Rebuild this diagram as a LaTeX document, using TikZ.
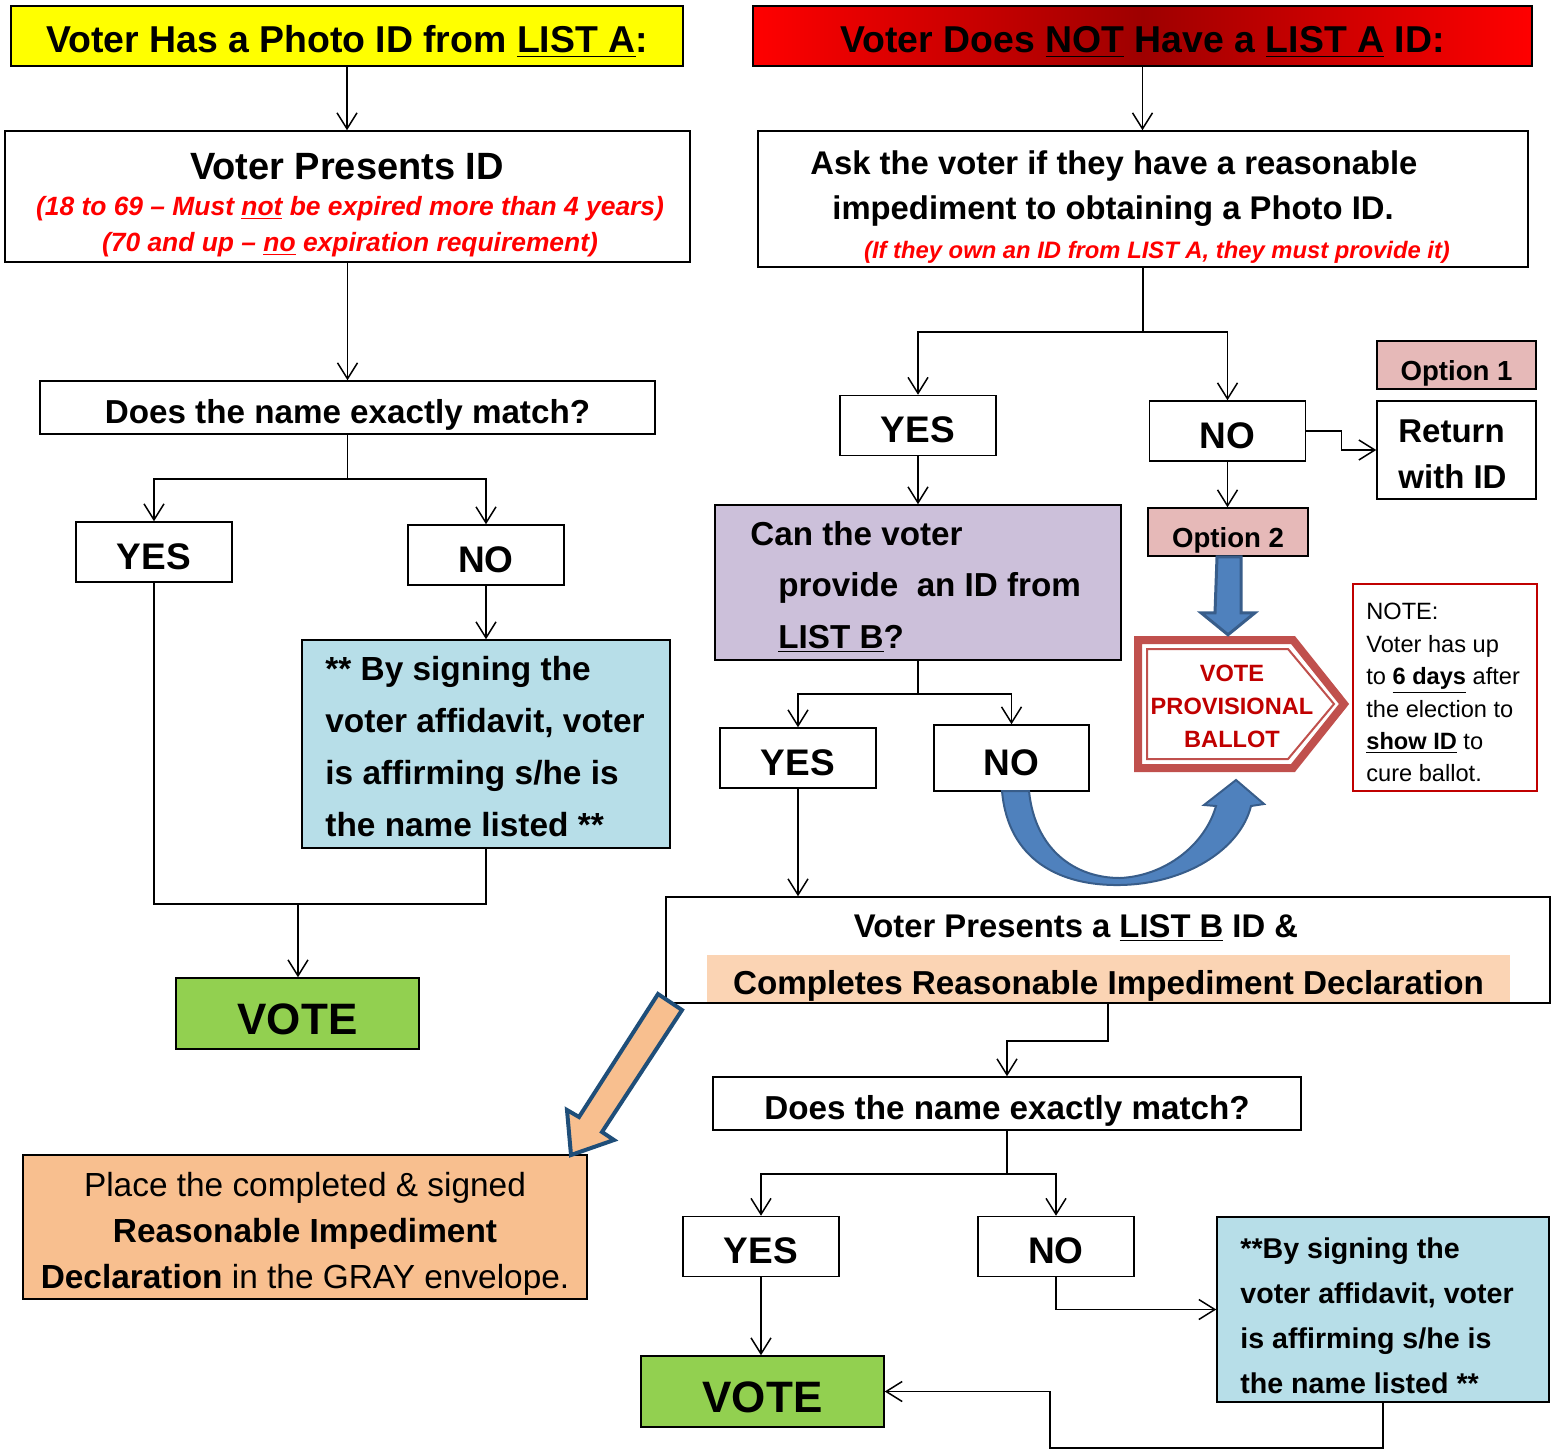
\documentclass[tikz,border=0pt]{standalone}
\usepackage{fontspec}
\setmainfont{Liberation Sans}
\usetikzlibrary{arrows.meta, positioning}

\definecolor{listayellow}{HTML}{FFFF00}
\definecolor{optpink}{HTML}{E6B9B8}
\definecolor{askpurple}{HTML}{CCC0DA}
\definecolor{affblue}{HTML}{B7DEE8}
\definecolor{votegreen}{HTML}{92D050}
\definecolor{peach}{HTML}{F8BF8F}
\definecolor{peachlight}{HTML}{FBD4B4}
\definecolor{provred}{HTML}{C0504D}
\definecolor{notered}{HTML}{C00000}
\definecolor{arrowblue}{HTML}{4F81BD}
\definecolor{arrowedge}{HTML}{385D8A}
\definecolor{navyedge}{HTML}{1F4E79}

\tikzset{
  box/.style={draw, line width=0.75pt, inner sep=0pt,
    font=\bfseries\fontsize{16.6}{20}\selectfont},
  question/.style={box, minimum height=26.5pt, text height=16pt, text depth=0pt},
  heading/.style={box, minimum height=30pt, text height=17pt, text depth=0pt,
    font=\bfseries\fontsize{18.7}{22}\selectfont},
  answer/.style={box, minimum width=78pt, minimum height=30pt,
    text height=17pt, text depth=0pt, font=\bfseries\fontsize{18.5}{22}\selectfont},
  option/.style={box, fill=optpink, minimum width=80pt, minimum height=24pt,
    text height=15pt, text depth=0pt, font=\bfseries\fontsize{13.8}{16}\selectfont},
  vote/.style={box, fill=votegreen, minimum width=121.5pt, minimum height=35.5pt,
    text height=21pt, text depth=0pt, font=\bfseries\fontsize{22}{26}\selectfont},
  rednote/.style={text=red, inner sep=0pt, font=\bfseries\itshape\fontsize{13.2}{16}\selectfont},
  lines/.style={anchor=north west, align=left, inner sep=0pt},
  link/.style={line width=0.75pt},
  flow/.style={link, -{Straight Barb[length=8pt,width=10pt]}},
}

\begin{document}
\begin{tikzpicture}[x=0.5pt, y=-0.5pt]
  \useasboundingbox (0,0) rectangle (1562,1450);

  % Left branch: the voter has a LIST A photo ID
  \node [heading, fill=listayellow, minimum width=336pt] (hdrA) at (347,36)
    {Voter Has a Photo ID from \underline{LIST A}:};
  \node [box, minimum width=342.5pt, minimum height=65.5pt] (presA) at (347.5,196.5) {};
  \node [inner sep=0pt, font=\bfseries\fontsize{19}{22}\selectfont] (presA1) at (347,167)
    {Voter Presents ID};
  \node [rednote] (presA2) at (350,209)
    {(18 to 69 – Must \underline{not} be expired more than 4 years)};
  \node [rednote] (presA3) at (350,245)
    {(70 and up – \underline{no} expiration requirement)};
  \node [question, minimum width=307.5pt] (matchA) at (347.5,407.5)
    {Does the name exactly match?};
  \node [answer] (yesA) at (154,552) {YES};
  \node [answer] (noA) at (486,555) {NO};
  \node [box, fill=affblue, minimum width=184pt, minimum height=104pt] (affA) at (486,744) {};
  \node [lines, font=\bfseries\fontsize{16.7}{26}\selectfont] (affAtxt) at (325,656)
    {** By signing the\\voter affidavit, voter\\is affirming s/he is\\the name listed **};
  \node [vote] (voteA) at (297.5,1013.5) {VOTE};
  \coordinate (joinA) at (298,904);

  \draw [flow] (hdrA.south) -- (hdrA.south |- presA.north);
  \draw [flow] (presA.south) -- (presA.south |- matchA.north);
  \draw [flow] (matchA.south) -- ++(0,44) -| (yesA.north);
  \draw [flow] (matchA.south) -- ++(0,44) -| (noA.north);
  \draw [flow] (noA.south) -- (noA.south |- affA.north);
  \draw [link] (yesA.south) |- (joinA) -| (affA.south);
  \draw [flow] (joinA) -- (joinA |- voteA.north);

  % Right branch: no LIST A ID
  \node [heading, left color=red, right color=red, middle color=red!62!black,
    minimum width=389.5pt] (hdrB) at (1142.5,36)
    {Voter Does \underline{NOT} Have a \underline{LIST A} ID:};
  \node [box, minimum width=385pt, minimum height=68pt] (askB) at (1143,199) {};
  \node [inner sep=0pt, font=\bfseries\fontsize{16.4}{20}\selectfont] (askB1) at (1114,166)
    {Ask the voter if they have a reasonable};
  \node [inner sep=0pt, font=\bfseries\fontsize{16.4}{20}\selectfont] (askB2) at (1113,211)
    {impediment to obtaining a Photo ID.};
  \node [rednote, font=\bfseries\itshape\fontsize{11.9}{14}\selectfont] (askB3) at (1157,252)
    {(If they own an ID from LIST A, they must provide it)};
  \node [answer] (yesB) at (918,425.5) {YES};
  \node [answer] (noB) at (1227.5,431) {NO};
  \node [option, minimum width=79.5pt] (opt1) at (1456.5,365) {Option 1};
  \node [box, minimum width=79.5pt, minimum height=49pt] (retB) at (1456.5,450) {};
  \node [lines, font=\bfseries\fontsize{16.5}{23}\selectfont] (retBtxt) at (1398,419)
    {Return\\with ID};
  \node [option] (opt2) at (1228,532) {Option 2};

  % Provisional ballot
  \draw [provred, line width=4pt, line join=miter, fill=white]
    (1138,640) -- (1293,640) -- (1344,704) -- (1293,768) -- (1138,768) -- cycle;
  \draw [provred, line width=1pt]
    (1147,649) -- (1288,649) -- (1334,704) -- (1288,759) -- (1147,759) -- cycle;
  \node [align=center, inner sep=0pt, text=notered,
    font=\bfseries\fontsize{11.8}{16.5}\selectfont] (provB) at (1232,706)
    {VOTE\\PROVISIONAL\\BALLOT};
  \node [draw=notered, line width=1pt, minimum width=92pt, minimum height=103.5pt]
    (noteB) at (1445,687.5) {};
  \node [lines, font=\fontsize{11.8}{16.2}\selectfont] (noteBtxt) at (1366,603)
    {NOTE:\\Voter has up\\to \textbf{\underline{6 days}} after\\the election to\\
     \textbf{\underline{show ID}} to\\cure ballot.};

  \node [box, fill=askpurple, minimum width=203pt, minimum height=77.5pt] (listq)
    at (918,582.5) {};
  \node [lines, font=\bfseries\fontsize{16.6}{25.7}\selectfont] (listqtxt) at (750,521)
    {Can the voter\\\hspace*{14pt}provide~ an ID from\\\hspace*{14pt}\underline{LIST B}?};
  \node [answer] (yesC) at (798,758) {YES};
  \node [answer, minimum width=77.5pt, minimum height=33pt] (noC) at (1011.5,758) {NO};

  \node [box, minimum width=442pt, minimum height=53pt] (presB) at (1108,950) {};
  \node [inner sep=0pt, font=\bfseries\fontsize{16.4}{20}\selectfont] (presB1) at (1076,928)
    {Voter Presents a \underline{LIST B} ID \&};
  \node [fill=peachlight, inner sep=0pt, minimum width=401.5pt, minimum height=23.5pt,
    text height=16pt, text depth=0pt,
    font=\bfseries\fontsize{16.6}{20}\selectfont] (presB2) at (1108.5,978.5)
    {Completes Reasonable Impediment Declaration};

  \node [box, fill=peach, minimum width=282pt, minimum height=72pt] (placeB) at (305,1227) {};
  \node [align=center, inner sep=0pt, font=\fontsize{16.7}{23}\selectfont] (placeBtxt)
    at (305,1234)
    {Place the completed \& signed\\\textbf{Reasonable Impediment}\\
     \textbf{Declaration} in the GRAY envelope.};

  \node [question, minimum width=294pt] (matchB) at (1007,1103.5)
    {Does the name exactly match?};
  \node [answer] (yesD) at (761,1246.5) {YES};
  \node [answer] (noD) at (1056,1246.5) {NO};
  \node [vote] (voteB) at (762.5,1391.5) {VOTE};
  \node [box, fill=affblue, minimum width=166pt, minimum height=92.5pt] (affB)
    at (1383,1309.5) {};
  \node [lines, font=\bfseries\fontsize{14.3}{22.5}\selectfont] (affBtxt) at (1240,1237)
    {**By signing the\\voter affidavit, voter\\is affirming s/he is\\the name listed **};
  \coordinate (loopB) at (1050,1448);

  \draw [flow] (hdrB.south) -- (hdrB.south |- askB.north);
  \draw [flow] (askB.south) -- ++(0,64) -| (yesB.north);
  \draw [flow] (askB.south) -- ++(0,64) -| (noB.north);
  \draw [flow] (noB.east) -- ++(35,0) |- (retB.west);
  \draw [flow] (noB.south) -- (noB.south |- opt2.north);
  \draw [flow] (yesB.south) -- (yesB.south |- listq.north);
  \draw [flow] (listq.south) -- ++(0,33) -| (yesC.north);
  \draw [flow] (listq.south) -- ++(0,33) -| (noC.north);
  \draw [flow] (yesC.south) -- (yesC.south |- presB.north);
  \draw [flow] (presB.south) -- ++(0,37) -| (matchB.north);
  \draw [flow] (matchB.south) -- ++(0,43) -| (yesD.north);
  \draw [flow] (matchB.south) -- ++(0,43) -| (noD.north);
  \draw [flow] (yesD.south) -- (yesD.south |- voteB.north);
  \draw [flow] (noD.south) |- (affB.west);
  \draw [flow] (affB.south) |- (loopB) |- (voteB.east);

  % Block arrows
  \draw [arrowedge, fill=arrowblue, line width=1.5pt, line join=miter]
    (opt2.south) ++(-11,0) -- ++(24,0) -- ++(0,56) -- ++(14,0) -- ++(-27,22)
    -- ++(-27,-22) -- ++(14,0) -- cycle;
  \draw [arrowedge, fill=arrowblue, line width=1pt]
    (1002,791) .. controls (1008,860) and (1060,886) .. (1120,885)
    .. controls (1185,884) and (1240,850) .. (1251,806) -- (1264,804) -- (1236,780)
    -- (1204,805) -- (1216,806) .. controls (1205,845) and (1165,876) .. (1120,878)
    .. controls (1075,878) and (1035,850) .. (1029,791) -- cycle;
  \draw [navyedge, fill=peach, line width=2pt, line join=miter]
    (658,994) -- (682,1010) -- (602,1132) -- (614,1140) -- (571,1155)
    -- (567,1110) -- (579,1117) -- cycle;
\end{tikzpicture}
\end{document}
